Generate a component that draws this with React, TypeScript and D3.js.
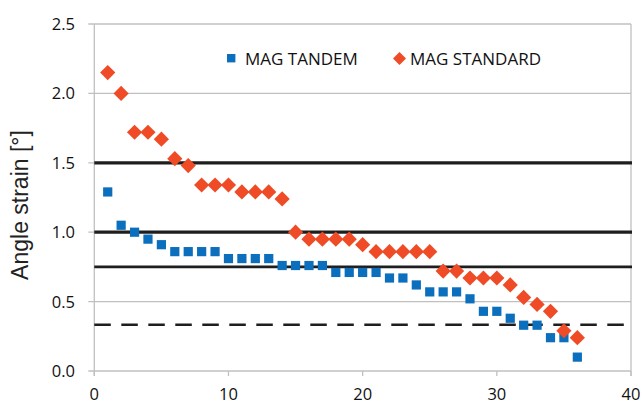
import React from "react";
import * as d3 from "d3";

const xIndex = Array.from({ length: 36 }, (_, i) => i + 1);
const tandem = [1.29, 1.05, 1.0, 0.95, 0.91, 0.86, 0.86, 0.86, 0.86, 0.81, 0.81, 0.81, 0.81, 0.76, 0.76, 0.76, 0.76, 0.71, 0.71, 0.71, 0.71, 0.67, 0.67, 0.62, 0.57, 0.57, 0.57, 0.52, 0.43, 0.43, 0.38, 0.33, 0.33, 0.24, 0.24, 0.1];
const standard = [2.15, 2.0, 1.72, 1.72, 1.67, 1.53, 1.48, 1.34, 1.34, 1.34, 1.29, 1.29, 1.29, 1.24, 1.0, 0.95, 0.95, 0.95, 0.95, 0.91, 0.86, 0.86, 0.86, 0.86, 0.86, 0.72, 0.72, 0.67, 0.67, 0.67, 0.62, 0.53, 0.48, 0.43, 0.29, 0.24];
const xTicks = [0, 10, 20, 30, 40];
const yTicks = [0, 0.5, 1.0, 1.5, 2.0, 2.5];
const refSolidThick = [1.5, 1.0];
const refSolidThin = [0.75];
const refDashed = [1 / 3];
const seriesNames = ["MAG TANDEM", "MAG STANDARD"];

const BLUE = "#0b6fbd";
const ORANGE = "#ee4b26";
const GRID = "#c0c0c0";
const DARK = "#1e1e1e";
const tickFont = "'Open Sans', sans-serif";

export default function App() {
  const x = d3.scaleLinear().domain([0, 40]).range([94.3, 631]);
  const y = d3.scaleLinear().domain([0, 2.5]).range([371, 24]);
  const [x0, x1] = x.range();
  const diamond = (cx: number, cy: number, r: number) =>
    `M${cx},${cy - r}L${cx + r},${cy}L${cx},${cy + r}L${cx - r},${cy}Z`;

  return (
    <svg
      width={643}
      height={403}
      style={{ position: "absolute", left: 0, top: 0, background: "#fff" }}
    >
      {/* gridlines */}
      {yTicks.map((t) => (
        <line key={"g" + t} x1={x0 - 6} x2={x1} y1={y(t)} y2={y(t)} stroke={GRID} strokeWidth={1.3} />
      ))}
      {/* left axis & right border */}
      <line x1={x0} x2={x0} y1={y(2.5)} y2={y(0) + 5} stroke={GRID} strokeWidth={1.3} />
      <line x1={x1} x2={x1} y1={y(2.5)} y2={y(0) + 5} stroke={GRID} strokeWidth={1.3} />
      {xTicks.map((t) => (
        <line key={"xt" + t} x1={x(t)} x2={x(t)} y1={y(0)} y2={y(0) + 5} stroke={GRID} strokeWidth={1.3} />
      ))}
      {/* tick labels */}
      {yTicks.map((t) => (
        <text key={"yl" + t} x={75} y={y(t)} dy="0.36em" textAnchor="end" fontFamily={tickFont} fontSize={16.5} fill="#111">
          {d3.format(".1f")(t)}
        </text>
      ))}
      {xTicks.map((t) => (
        <text key={"xl" + t} x={x(t)} y={399.5} textAnchor="middle" fontFamily={tickFont} fontSize={16.5} fill="#111">
          {t}
        </text>
      ))}
      {/* axis title */}
      <text
        transform={`translate(28,205) rotate(-90)`}
        textAnchor="middle"
        fontFamily="'Liberation Sans', Arial, sans-serif"
        fontSize={23}
        fill="#222"
      >
        Angle strain [°]
      </text>
      {/* reference lines */}
      {refSolidThick.map((v) => (
        <line key={"r" + v} x1={x0} x2={x1 + 1} y1={y(v)} y2={y(v)} stroke={DARK} strokeWidth={3.2} />
      ))}
      {refSolidThin.map((v) => (
        <line key={"rt" + v} x1={x0} x2={x1 + 1} y1={y(v)} y2={y(v)} stroke={DARK} strokeWidth={2.6} />
      ))}
      {refDashed.map((v) => (
        <line key={"rd" + v} x1={x0} x2={x1} y1={y(v)} y2={y(v)} stroke={DARK} strokeWidth={2.6} strokeDasharray="16.5,10.5" />
      ))}
      {/* series */}
      {tandem.map((v, i) => (
        <rect key={"t" + i} x={x(xIndex[i]) - 4.6} y={y(v) - 4.6} width={9.2} height={9.2} fill={BLUE} />
      ))}
      {standard.map((v, i) => (
        <path key={"s" + i} d={diamond(x(xIndex[i]), y(v), 7.6)} fill={ORANGE} />
      ))}
      {/* legend */}
      <rect x={227} y={54} width={8.4} height={8.4} fill={BLUE} />
      <text x={245} y={65} fontFamily={tickFont} fontSize={17} fill="#111">
        {seriesNames[0]}
      </text>
      <path d={diamond(399.5, 58.5, 6.5)} fill={ORANGE} />
      <text x={410} y={65} fontFamily={tickFont} fontSize={17} fill="#111">
        {seriesNames[1]}
      </text>
    </svg>
  );
}
